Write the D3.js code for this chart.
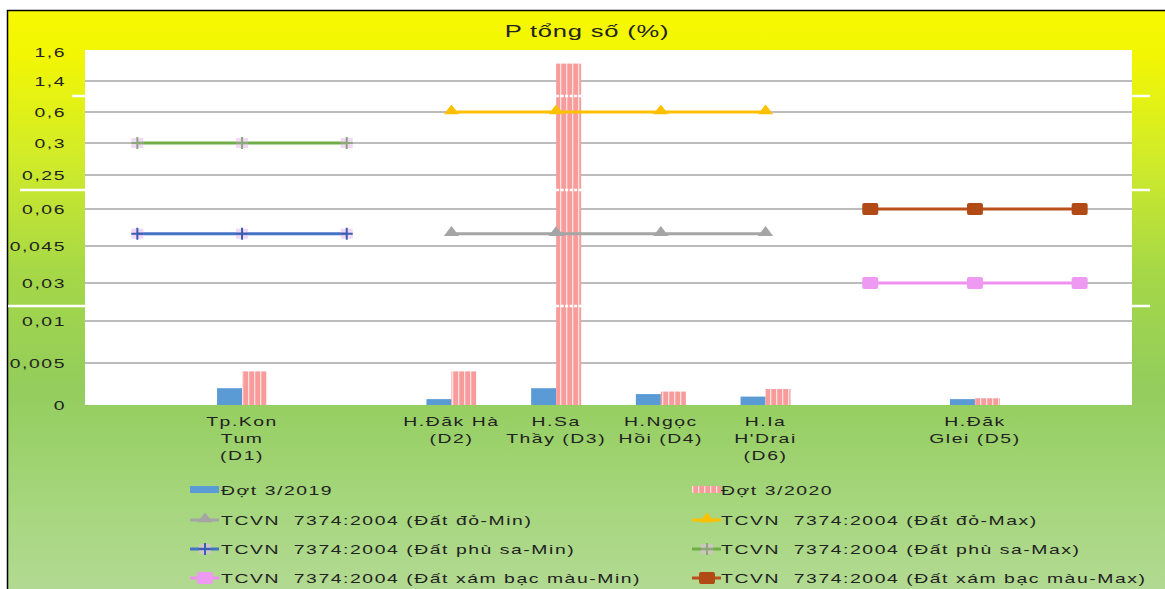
<!DOCTYPE html>
<html><head><meta charset="utf-8">
<script src="https://cdn.jsdelivr.net/npm/d3@7"></script>
<style>html,body{margin:0;padding:0;background:#fff;} svg{display:block;} text{white-space:pre;}</style>
</head><body>
<script>
// ---------- data ----------
const categoryLines = [
  [], ["Tp.Kon","Tum","(D1)"], [], ["H.Đăk Hà","(D2)"], ["H.Sa","Thầy (D3)"],
  ["H.Ngọc","Hồi (D4)"], ["H.Ia","H'Drai","(D6)"], [], ["H.Đăk","Glei (D5)"], []
];
const categories = categoryLines.map((d,i)=>"c"+i);
const yTicks = [0, 0.005, 0.01, 0.03, 0.045, 0.06, 0.25, 0.3, 0.6, 1.4, 1.6];
const yTickLabels = ["0","0,005","0,01","0,03","0,045","0,06","0,25","0,3","0,6","1,4","1,6"];
const dot2019 = [null, 0.002, null, 0.0007, 0.002, 0.0013, 0.001, null, 0.0007, null];
const dot2020 = [null, 0.004, null, 0.004, 1.52, 0.0016, 0.0019, null, 0.0008, null];
const doMin    = [null,null,null,0.05,0.05,0.05,0.05,null,null,null];
const doMax    = [null,null,null,0.6,0.6,0.6,0.6,null,null,null];
const phuSaMin = [0.05,0.05,0.05,null,null,null,null,null,null,null];
const phuSaMax = [0.3,0.3,0.3,null,null,null,null,null,null,null];
const xamMin   = [null,null,null,null,null,null,null,0.03,0.03,0.03];
const xamMax   = [null,null,null,null,null,null,null,0.06,0.06,0.06];
const title = "P tổng số (%)";
const legendNames = [
  "Đợt 3/2019","Đợt 3/2020",
  "TCVN  7374:2004 (Đất đỏ-Min)","TCVN  7374:2004 (Đất đỏ-Max)",
  "TCVN  7374:2004 (Đất phù sa-Min)","TCVN  7374:2004 (Đất phù sa-Max)",
  "TCVN  7374:2004 (Đất xám bạc màu-Min)","TCVN  7374:2004 (Đất xám bạc màu-Max)"
];

// ---------- setup ----------
const W = 1165, H = 589, SX = 1.55;
const svg = d3.select("body").append("svg").attr("width", W).attr("height", H);
const defs = svg.append("defs");
const bg = defs.append("linearGradient").attr("id","bg").attr("x1",0).attr("y1",0).attr("x2",0).attr("y2",1);
[[0,"#f7f900"],[0.08,"#f2f604"],[0.25,"#d2ec28"],[0.45,"#a6d846"],[0.65,"#93cd5c"],[0.85,"#a5d67c"],[1,"#b2da92"]]
  .forEach(([o,c])=>bg.append("stop").attr("offset",o).attr("stop-color",c));
const pat = defs.append("pattern").attr("id","pinkpat").attr("patternUnits","userSpaceOnUse")
  .attr("width",6).attr("height",4);
pat.append("rect").attr("width",6).attr("height",4).attr("fill","#f79b9b");
pat.append("rect").attr("x",2).attr("width",1.3).attr("height",4).attr("fill","#fde0e0");

svg.append("rect").attr("x",7).attr("y",10).attr("width",W-7).attr("height",H-10).attr("fill","url(#bg)");
svg.append("path").attr("d",`M7.5,${H} V10.5 H${W}`).attr("fill","none").attr("stroke","#000").attr("stroke-width",1.5);

function stext(g, x, y, str, anchor, size, ls){
  return g.append("text").attr("transform",`translate(${x},${y}) scale(${SX},1)`)
    .attr("text-anchor",anchor).attr("font-family","Liberation Sans, Arial, sans-serif")
    .attr("font-size",size).attr("letter-spacing", ls==null ? 1 : ls)
    .attr("fill","#222").text(str);
}

const plot = {left:85, right:1132, top:50, bottom:405};
svg.append("rect").attr("x",plot.left).attr("y",plot.top).attr("width",plot.right-plot.left)
  .attr("height",plot.bottom-plot.top).attr("fill","#fff");

const x = d3.scaleBand().domain(categories).range([plot.left, plot.right]);
const xs = d3.scaleBand().domain(["a","b"]).range([-25, 25]);
const yRange = [405, 363, 321, 283, 246, 209, 175, 143, 112, 81, 52];
const y = d3.scaleLinear().domain(yTicks).range(yRange);

// gridlines
svg.append("g").selectAll("line").data(yTicks.filter(v=>v>0 && v<1.6)).join("line")
  .attr("x1",plot.left).attr("x2",plot.right).attr("y1",d=>y(d)).attr("y2",d=>y(d))
  .attr("stroke","#a6a6a6").attr("stroke-width",1.6);

// y labels
const yl = svg.append("g");
yTicks.forEach((v,i)=>stext(yl, 66, y(v)+5, yTickLabels[i], "end", 12.5));

// title
stext(svg, 587, 37, title, "middle", 16.5, 0.5);

// bars
const bars = svg.append("g");
categories.forEach((c,i)=>{
  if (dot2019[i]!=null) bars.append("rect").attr("x",x(c)+x.bandwidth()/2+xs("a")).attr("width",xs.bandwidth())
    .attr("y",y(dot2019[i])).attr("height",y(0)-y(dot2019[i])).attr("fill","#5b9bd5");
  if (dot2020[i]!=null) bars.append("rect").attr("x",x(c)+x.bandwidth()/2+xs("b")).attr("width",xs.bandwidth())
    .attr("y",y(dot2020[i])).attr("height",y(0)-y(dot2020[i])).attr("fill","url(#pinkpat)");
});

// axis break marks
const breaks = [96, 190, 306];
const bk = svg.append("g").attr("stroke","#fff").attr("stroke-width",2.5);
bk.append("line").attr("x1",72).attr("x2",plot.left).attr("y1",breaks[0]).attr("y2",breaks[0]);
bk.append("line").attr("x1",20).attr("x2",plot.left).attr("y1",breaks[1]).attr("y2",breaks[1]);
bk.append("line").attr("x1",8).attr("x2",plot.left).attr("y1",breaks[2]).attr("y2",breaks[2]);
breaks.forEach(b=>{
  bk.append("line").attr("x1",plot.right).attr("x2",plot.right+18).attr("y1",b).attr("y2",b);
  const bx = x("c4")+x.bandwidth()/2+xs("b");
  bk.append("line").attr("x1",bx).attr("x2",bx+xs.bandwidth()).attr("y1",b).attr("y2",b)
    .attr("stroke-dasharray","3,1.5");
});

// line series
const cx = c => x(c)+x.bandwidth()/2;
const tri = d3.symbol().type(d3.symbolTriangle).size(70);
function drawMarker(g, kind, px, py, color){
  if (kind==="tri"){
    g.append("path").attr("d",tri()).attr("transform",`translate(${px},${py-1}) scale(1.2,0.9)`).attr("fill",color);
  } else if (kind==="sq"){
    g.append("rect").attr("x",px-8).attr("y",py-6).attr("width",16).attr("height",12).attr("rx",2).attr("fill",color);
  } else if (kind==="plus"){
    g.append("rect").attr("x",px-6).attr("y",py-5).attr("width",12).attr("height",10).attr("fill","#e6b8ee").attr("opacity",0.55);
    g.append("path").attr("d",`M${px-6},${py}H${px+6}M${px},${py-6}V${py+6}`).attr("stroke",color).attr("stroke-width",2);
  }
}
const lineSeries = [
  {vals:doMin, color:"#a5a5a5", marker:"tri", mcolor:"#a5a5a5"},
  {vals:doMax, color:"#ffc000", marker:"tri", mcolor:"#ffc000"},
  {vals:phuSaMin, color:"#4472c4", marker:"plus", mcolor:"#3a5fb0"},
  {vals:phuSaMax, color:"#70ad47", marker:"plus", mcolor:"#8aa878"},
  {vals:xamMin, color:"#ee90f0", marker:"sq", mcolor:"#ee9af2"},
  {vals:xamMax, color:"#b9501c", marker:"sq", mcolor:"#b24a16"}
];
const lineGen = d3.line().defined(d=>d.v!=null).x(d=>cx(d.c)).y(d=>y(d.v));
const lg = svg.append("g");
lineSeries.forEach(s=>{
  const pts = categories.map((c,i)=>({c, v:s.vals[i]}));
  lg.append("path").attr("d",lineGen(pts)).attr("fill","none").attr("stroke",s.color).attr("stroke-width",3);
  pts.filter(p=>p.v!=null).forEach(p=>drawMarker(lg, s.marker, cx(p.c), y(p.v), s.mcolor));
});

// x labels
const xl = svg.append("g");
categories.forEach((c,i)=>{
  categoryLines[i].forEach((ln,j)=>stext(xl, cx(c), 426 + j*17, ln, "middle", 12.5));
});

// legend
const leg = svg.append("g");
const legRows = [490, 520, 549, 578];
const legCols = [{mx:190, tx:221},{mx:692, tx:721}];
const legendKinds = [
  {type:"bar", fill:"#5b9bd5"}, {type:"bar", fill:"url(#pinkpat)"},
  lineSeries[0], lineSeries[1], lineSeries[2], lineSeries[3], lineSeries[4], lineSeries[5]
];
legendNames.forEach((name,i)=>{
  const col = legCols[i%2], ry = legRows[Math.floor(i/2)];
  const k = legendKinds[i];
  if (k.type==="bar"){
    leg.append("rect").attr("x",col.mx).attr("y",ry-4).attr("width",29).attr("height",7).attr("fill",k.fill);
  } else {
    leg.append("line").attr("x1",col.mx).attr("x2",col.mx+29).attr("y1",ry).attr("y2",ry)
      .attr("stroke",k.color).attr("stroke-width",3);
    drawMarker(leg, k.marker, col.mx+15, ry, k.mcolor);
  }
  stext(leg, col.tx, ry+5, name, "start", 12.5);
});
</script>
</body></html>
